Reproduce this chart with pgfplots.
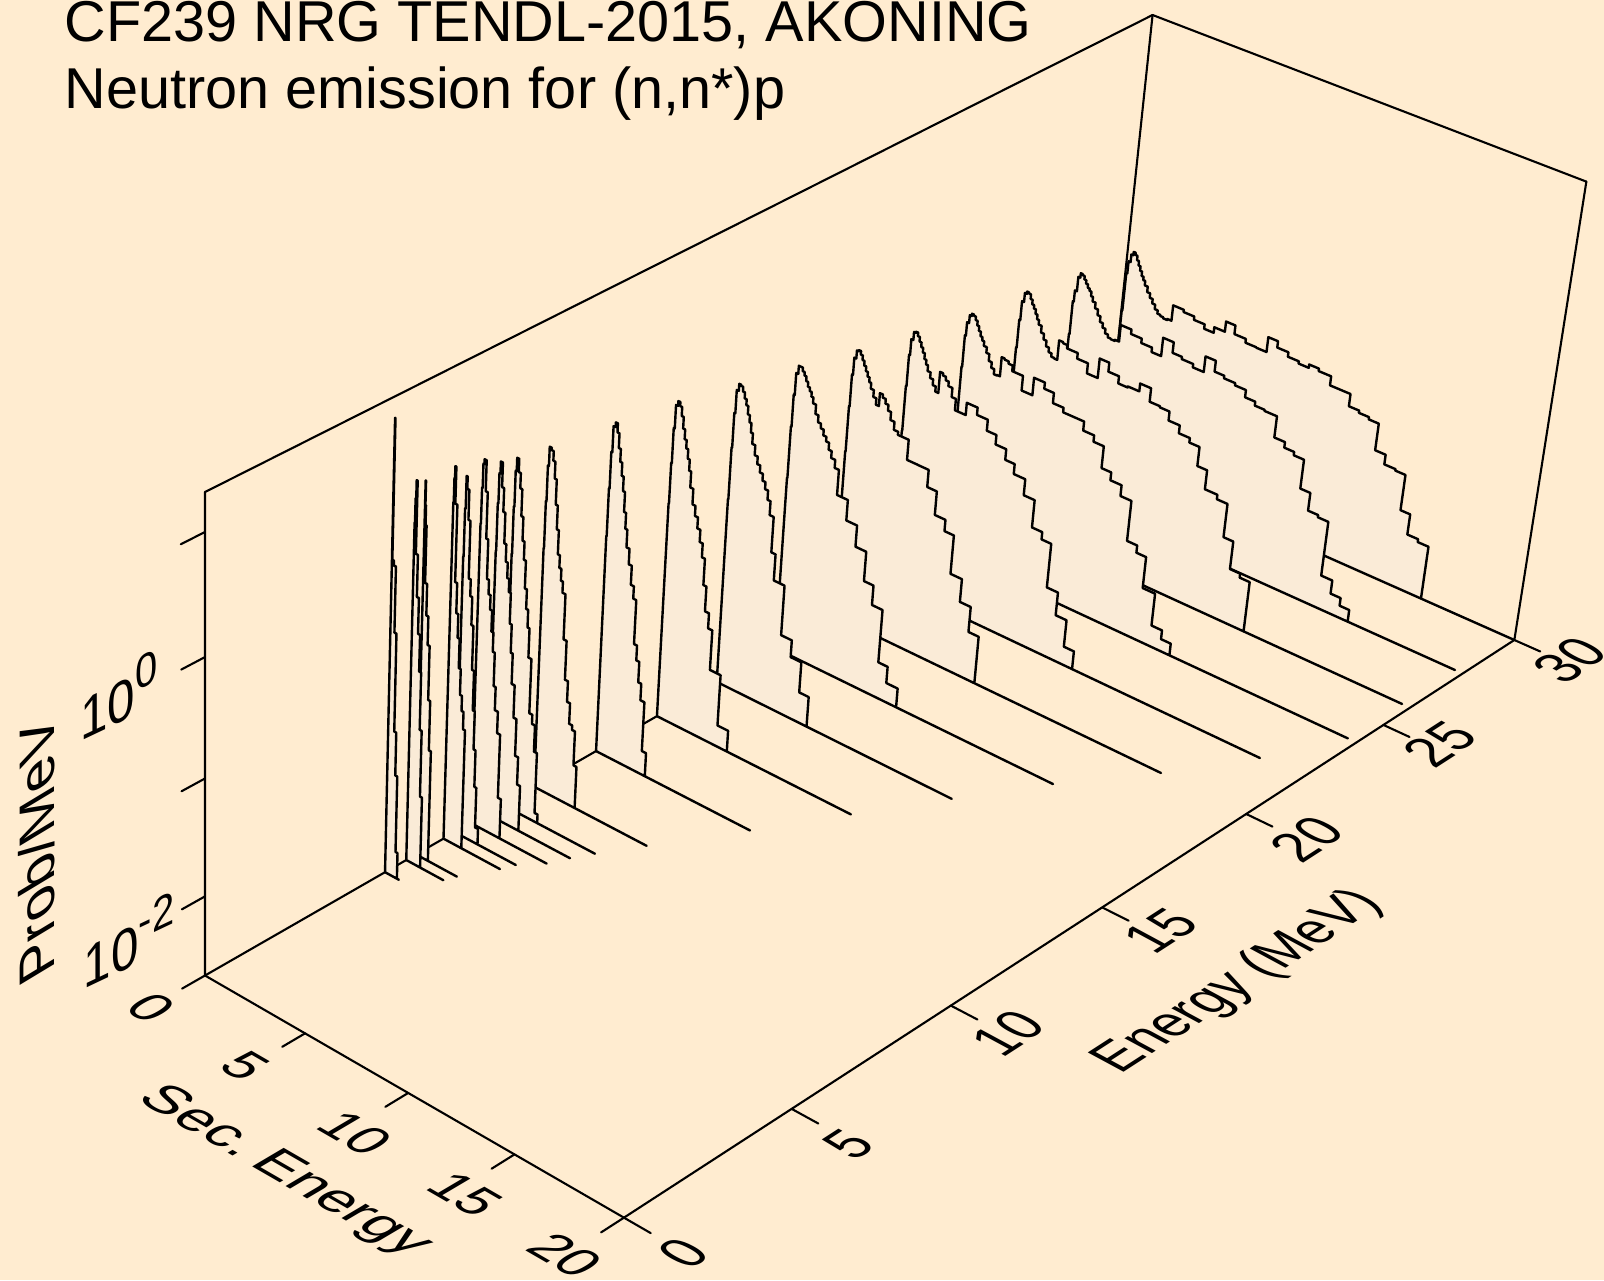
\documentclass[border=0pt]{standalone}
\usepackage{fontspec}
\setmainfont{Liberation Sans}
\usepackage{pgfplots}
\pgfplotsset{compat=1.18}
\definecolor{bgcol}{HTML}{FFECD0}
\definecolor{fillcol}{HTML}{FAEBD7}

% common secondary energy grid (MeV), bin edges
\def\grid{{0,0.02,0.05,0.1,0.2,0.3,0.4,0.5,0.6,0.7,0.8,0.9,1.0,1.15,1.3,1.45,1.6,1.75,1.9,2.05,2.25,2.46,2.99,3.52,4.05,4.52,5.04,5.5,6.06,6.59,7.09,7.56,8.1,8.63,9.12,9.59,10.19,10.70,11.17,11.66,12.14,12.62,13.12,13.65,14.13,14.59,15.10,15.61}}
\def\zmin{-2.687}

% perspective view: sec. energy, energy, log10(prob) -> picture coordinates
\newcommand\proj[3]{%
  \pgfmathsetmacro\uu{#1/20}%
  \pgfmathsetmacro\vv{#2/30}%
  \pgfmathsetmacro\ww{(#3+2.687)/4}%
  \pgfmathsetmacro\dd{1-0.0578*\uu+0.1511*\vv-0.057*\ww}%
  \pgfmathsetmacro\px{(205+382.9*\uu+1067.7*\vv-11.7*\ww)/\dd}%
  \pgfmathsetmacro\py{(975.5+171.8*\uu-447.6*\vv-511.5*\ww)/\dd}%
}
\newcommand\seg[6]{%
  \proj{#1}{#2}{#3}\edef\xa{\px}\edef\ya{\py}%
  \proj{#4}{#5}{#6}\edef\xb{\px}\edef\yb{\py}%
  \edef\temp{\noexpand\addplot[axisline] coordinates {(\xa,\ya) (\xb,\yb)};}\temp
}
% incident energy, log10(prob) of each bin, end of the base line
\newcommand\curve[3]{%
  \proj{0}{#1}{\zmin}\xdef\crv{(\px,\py)}\xdef\crvs{(\px,\py)}%
  \foreach \val [count=\k from 0] in {#2}{%
    \pgfmathsetmacro\ea{\grid[\k]}%
    \pgfmathtruncatemacro\kk{\k+1}%
    \pgfmathsetmacro\eb{\grid[\kk]}%
    \proj{\ea}{#1}{\val}\xdef\crv{\crv (\px,\py)}%
    \proj{\eb}{#1}{\val}\xdef\crv{\crv (\px,\py)}%
    \xdef\elast{\eb}%
  }%
  \proj{\elast}{#1}{\zmin}\xdef\crv{\crv (\px,\py)}%
  \proj{#3}{#1}{\zmin}\xdef\crv{\crv (\px,\py)}%
  \edef\temp{\noexpand\addplot[spec] coordinates {\crv\space\crvs};}\temp
}
\newcommand\lab[4]{\node[cm={#3,(0,0)},transform shape,inner sep=0pt,anchor=center] at (axis cs:#1,#2) {\fontsize{26}{26}\selectfont #4};}
\newcommand\supr[1]{\raisebox{0.42em}{\fontsize{21}{21}\selectfont #1}}

\begin{document}
\begin{tikzpicture}
\path[use as bounding box,fill=bgcol] (0,0) rectangle (802pt,640pt);
\clip (0,0) rectangle (802pt,640pt);
\begin{axis}[
  at={(0,0)},anchor=south west,
  scale only axis,width=802pt,height=640pt,
  xmin=0,xmax=1604,ymin=0,ymax=1280,y dir=reverse,
  hide axis,clip=false,
  axisline/.style={black,line width=1.05pt,line cap=round},
  spec/.style={black,fill=fillcol,line width=1.2pt,line join=round},
]
% box
\seg{0}{0}{\zmin}{0}{0}{1.313}
\seg{0}{0}{1.313}{0}{30}{1.313}
\seg{0}{30}{1.313}{20}{30}{1.313}
\seg{20}{30}{1.313}{20}{30}{\zmin}
\seg{0}{30}{1.313}{0}{30}{\zmin}
\seg{0}{0}{\zmin}{20}{0}{\zmin}
\seg{20}{0}{\zmin}{20}{30}{\zmin}
\seg{0}{0}{\zmin}{0}{30}{\zmin}
% ticks
\foreach \t in {0,5,10,15,20}{\seg{\t}{0}{\zmin}{\t}{-0.66}{\zmin}}
\foreach \t in {0,5,10,15,20,25,30}{\seg{20}{\t}{\zmin}{21.2}{\t}{\zmin}}
\foreach \t in {-2,-1,0,1}{\seg{0}{0}{\t}{0}{-0.66}{\t}}
% spectra, back to front
\curve{30}{-1.8,-1.3,-0.96,-0.85,-0.78,-0.75,-0.77,-0.81,-0.85,-0.89,-0.93,-0.96,-1.0,-1.05,-1.09,-1.13,-1.17,-1.2,-1.21,-1.22,-1.21,-1.07,-1.09,-1.12,-1.16,-1.11,-1.018,-1.096,-1.13,-1.134,-1.0,-1.057,-1.097,-1.117,-1.087,-1.109,-1.19,-1.19,-1.3,-1.32,-1.34,-1.58,-1.667,-1.68,-2.0,-2.184,-2.21}{20}
\curve{28}{-1.7,-1.25,-0.95,-0.85,-0.72,-0.68,-0.69,-0.72,-0.75,-0.78,-0.8,-0.84,-0.88,-0.93,-0.98,-1.03,-1.07,-1.11,-1.135,-1.14,-1.13,-0.98,-1.02,-1.06,-1.10,-0.935,-1.03,-1.05,-1.08,-0.94,-1.037,-1.06,-1.08,-1.145,-1.18,-1.19,-1.38,-1.43,-1.46,-1.72,-1.88,-1.90,-2.39,-2.51,-2.58}{19.64}
\curve{26}{-1.5,-1.1,-0.85,-0.68,-0.6,-0.58,-0.59,-0.63,-0.67,-0.7,-0.74,-0.78,-0.82,-0.88,-0.93,-0.98,-1.02,-1.05,-1.055,-0.88,-0.89,-0.92,-0.97,-1.06,-0.886,-0.966,-1.03,-1.02,-0.95,-1.07,-1.08,-1.16,-1.23,-1.27,-1.44,-1.61,-1.65,-1.95,-2.20,-2.236}{19.63}
\curve{24}{-1.4,-1.0,-0.72,-0.6,-0.53,-0.51,-0.52,-0.55,-0.59,-0.63,-0.67,-0.7,-0.74,-0.79,-0.85,-0.9,-0.945,-0.94,-0.77,-0.78,-0.8,-0.85,-0.98,-0.825,-0.88,-0.97,-1.01,-1.01,-1.09,-1.146,-1.34,-1.41,-1.506,-1.865,-1.93,-2.21,-2.5,-2.58}{19.6}
\curve{22}{-1.3,-0.9,-0.62,-0.48,-0.41,-0.4,-0.43,-0.47,-0.51,-0.55,-0.6,-0.64,-0.69,-0.74,-0.79,-0.836,-0.65,-0.67,-0.7,-0.74,-0.82,-0.92,-0.812,-0.876,-0.973,-1.056,-1.15,-1.238,-1.38,-1.623,-1.688,-2.08,-2.285,-2.525}{18.06}
\curve{20}{-1.2,-0.8,-0.52,-0.37,-0.3,-0.29,-0.32,-0.36,-0.4,-0.44,-0.48,-0.52,-0.57,-0.63,-0.686,-0.573,-0.6,-0.64,-0.69,-0.76,-0.83,-0.857,-1.034,-1.035,-1.186,-1.394,-1.494,-1.836,-2.04,-2.265}{16.05}
\curve{18}{-1.15,-0.7,-0.42,-0.23,-0.16,-0.16,-0.19,-0.22,-0.26,-0.3,-0.33,-0.37,-0.42,-0.5,-0.56,-0.6,-0.65,-0.69,-0.75,-0.81,-0.88,-1.1,-1.28,-1.467,-1.727,-1.9,-2.37,-2.517}{13.65}
\curve{16}{-1.05,-0.6,-0.3,-0.1,-0.04,-0.05,-0.09,-0.14,-0.19,-0.26,-0.32,-0.4,-0.49,-0.575,-0.64,-0.7,-0.759,-0.82,-0.9,-1.02,-1.33,-1.56,-2.0,-2.15,-2.42}{11.6}
\curve{14}{-0.8,-0.45,-0.15,0.05,0.09,0.056,-0.02,-0.118,-0.2,-0.27,-0.35,-0.444,-0.58,-0.713,-0.8,-0.895,-1.0,-1.12,-1.35,-1.567,-1.7,-2.05,-2.5}{9.61}
\curve{12}{-0.79,-0.38,-0.07,0.15,0.19,0.114,-0.009,-0.117,-0.226,-0.348,-0.517,-0.652,-0.803,-0.936,-1.1,-1.207,-1.59,-1.72,-1.9,-2.045,-2.48}{7.66}
\curve{10}{-0.6,-0.2,0.1,0.26,0.24,0.16,0.02,-0.19,-0.39,-0.593,-0.7,-0.8,-0.895,-1.283,-1.62,-1.8,-1.98,-2.02,-2.32}{5.63}
\curve{9}{-0.5,-0.1,0.2,0.31,0.2,0.074,-0.15,-0.348,-0.5,-0.734,-0.9,-1.05,-1.3,-1.77,-1.85,-2.08,-2.61}{4.63}
\curve{8.5}{-0.4,0.0,0.25,0.35,0.147,-0.05,-0.305,-0.45,-0.58,-0.69,-0.95,-1.19,-1.45,-1.73,-2.05,-2.29}{4.18}
\curve{8}{-0.1,0.2,0.4,0.44,0.185,-0.2,-0.53,-0.65,-0.772,-0.95,-1.114,-1.4,-1.6,-1.786,-2.34}{3.81}
\curve{7.5}{-0.3,0.1,0.37,0.268,0.02,-0.46,-0.6,-0.836,-1.21,-1.55,-1.88,-2.2,-2.55}{3.07}
\curve{7.15}{0.2,0.4,0.5,0.196,-0.447,-0.7,-0.9,-1.15,-1.37,-1.5,-1.65}{2.84}
\curve{6.3}{0.5,0.3,0.14,-0.336,-0.6,-0.84,-1.3,-1.725}{2.06}
\curve{6}{0.2,0.4,0.55,-0.05,-0.4,-0.7,-1.01,-1.5,-2.07}{1.87}
\curve{5.35}{1.14,-0.01,-0.01,-0.05,-0.6,-1.43,-1.8,-2.46}{0.7}
% titles and labels
\node[anchor=base west,inner sep=0pt] at (axis cs:64.5,41) {\fontsize{28.8}{28.8}\selectfont CF239 NRG TENDL-2015, AKONING};
\node[anchor=base west,inner sep=0pt] at (axis cs:64.5,108.5) {\fontsize{28.8}{28.8}\selectfont Neutron emission for (n,n*)p};
\lab{151}{1008}{0.9,-0.52,0.88,0.52}{0}
\lab{245.5}{1066}{0.9,-0.52,0.88,0.52}{5}
\lab{355}{1133}{0.9,-0.52,0.88,0.52}{10}
\lab{465}{1194}{0.9,-0.52,0.88,0.52}{15}
\lab{565}{1255}{0.9,-0.52,0.88,0.52}{20}
\lab{284}{1172}{0.98,-0.565,0.88,0.52}{Sec.\hspace{-0.17em} Energy}
\lab{683}{1253}{0.82,0.53,-1.0,0.54}{0}
\lab{849}{1144}{0.82,0.53,-1.0,0.54}{5}
\lab{1008}{1033}{0.82,0.53,-1.0,0.54}{10}
\lab{1161}{931}{0.82,0.53,-1.0,0.54}{15}
\lab{1307}{839}{0.82,0.53,-1.0,0.54}{20}
\lab{1440}{744}{0.82,0.53,-1.0,0.54}{25}
\lab{1570}{660}{0.82,0.53,-1.0,0.54}{30}
\lab{1239}{982}{0.82,0.53,-1.0,0.54}{Energy (MeV)}
\lab{37}{851}{0,1.12,-0.96,-0.58}{Prob/MeV}
\lab{129}{940}{0.95,0.45,0,1.12}{10\supr{-2}}
\lab{119}{695}{0.95,0.45,0,1.12}{10\supr{0}}
\end{axis}
\end{tikzpicture}
\end{document}
